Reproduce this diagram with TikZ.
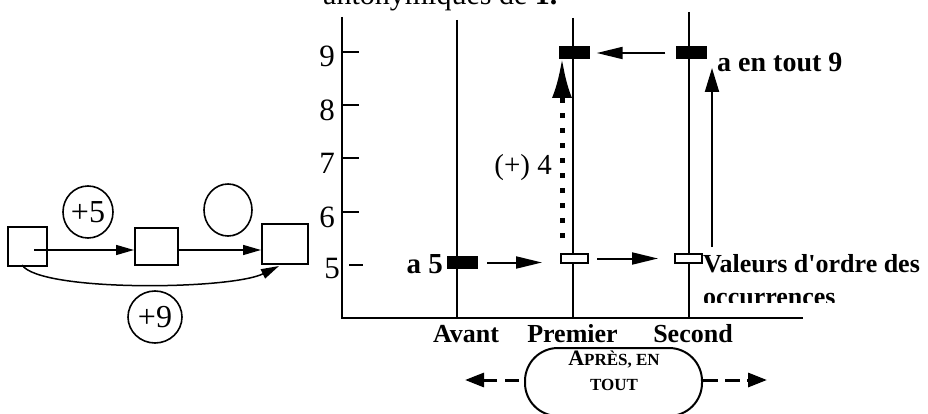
\documentclass[tikz,border=0pt]{standalone}
\usepackage{fontspec}
\setmainfont{Liberation Serif}[Ligatures=TeXOff]
\usetikzlibrary{arrows.meta,shapes.geometric}
\begin{document}
\begin{tikzpicture}[x=1pt,y=-1pt,
 ln/.style={line width=2pt},
 blk/.style={fill=black, draw=none, minimum width=31pt, minimum height=13pt, inner sep=0pt},
 opn/.style={draw, fill=white, line width=2pt, minimum width=27pt, minimum height=9pt, inner sep=0pt},
 arr/.style={line width=2pt, -{Triangle[length=26pt,width=12pt]}},
 arrs/.style={line width=1.5pt, -{Triangle[length=18pt,width=10pt]}},
 bx/.style={draw, line width=2pt, inner sep=0pt},
 circ/.style={draw, ellipse, line width=1.6pt, inner sep=0pt, font=\fontsize{32}{34}\selectfont},
 lab/.style={inner sep=0pt, font=\fontsize{26}{32}\selectfont\bfseries},
 num/.style={inner sep=0pt, font=\fontsize{31}{34}\selectfont, anchor=base east},
 dsh/.style={line width=3pt, dash pattern=on 14pt off 8pt, -{Triangle[length=19pt,width=14pt]}}
]
\useasboundingbox (0,0) rectangle (928,414);
\clip (0,0) rectangle (928,414);

% title (cut at top)
\node[anchor=base west, inner sep=0pt, font=\fontsize{30}{34}\selectfont] (title) at (323,5) {antonymiques de \textbf{1.}};

% axis
\coordinate (axtop) at (342,17);
\coordinate (axo) at (342,318);
\coordinate (axend) at (803,318);
\draw[ln] (axtop) -- (axo) -- (axend);
\foreach \y in {52,105,158,212} \draw[ln] (342,\y) -- (359,\y);
\draw[ln] (349,265) -- (363,265);
\node[num] (n9) at (335,67) {9};
\node[num] (n8) at (335,121) {8};
\node[num] (n7) at (335,174) {7};
\node[num] (n6) at (335,227) {6};
\node[num] (n5) at (340,278) {5};

% vertical lines
\coordinate (avt) at (457,20);
\coordinate (avb) at (457,318);
\coordinate (prt) at (573,18);
\coordinate (prb) at (573,318);
\coordinate (set) at (689,12);
\coordinate (seb) at (689,318);
\draw[ln] (avt) -- (avb);
\draw[ln] (prt) -- (prb);
\draw[ln] (set) -- (seb);

% blocks
\node[blk] (p9) at (574,53) {};
\node[blk] (s9) at (691,53) {};
\node[blk] (a5) at (462.5,262.5) {};
\node[opn] (p5) at (574.5,258.5) {};
\node[opn] (s5) at (688.5,258.5) {};

% arrows
\draw[arr] ([xshift=-10pt]s9.west) -- ([xshift=7pt]p9.east);
\draw[arr] ([xshift=9pt]a5.east) -- ([xshift=-18pt]p5.west |- a5.east);
\draw[arr] ([xshift=8pt]p5.east) -- ([xshift=-16pt]s5.west);
\coordinate (vb) at (712,247);
\coordinate (vt) at (712,68);
\draw[line width=2pt, -{Triangle[length=24pt,width=14pt]}] (vb) -- (vt);

% dotted arrow
\coordinate (db) at (562,238);
\coordinate (dt) at (562,58);
\draw[line width=5pt, dash pattern=on 5pt off 10pt, -{Latex[length=40pt,width=20pt]}] (db) -- (dt);
\node[anchor=base east, inner sep=0pt, font=\fontsize{29}{30}\selectfont] (plus4) at (552,175) {(+) 4};

% labels
\node[lab, anchor=base west, font=\fontsize{28}{32}\selectfont\bfseries] (tout9) at (717,72) {a en tout 9};
\node[lab, anchor=base east, font=\fontsize{29}{32}\selectfont\bfseries] (la5) at (443,273) {a 5};
\node[lab, anchor=base west] (val1) at (703,272) {Valeurs d'ordre des};
\begin{scope}
\clip (690,280) rectangle (928,302);
\node[lab, anchor=base west] (val2) at (703,305) {occurrences};
\end{scope}
\node[lab, anchor=base] (lav) at (466,342) {Avant};
\node[lab, anchor=base] (lpr) at (572.5,342) {Premier};
\node[lab, anchor=base] (lse) at (693,342) {Second};

% bottom stadium
\node[draw, line width=2pt, rounded corners=33pt, minimum width=177pt, minimum height=68pt, inner sep=0pt] (apres) at (613.5,382) {};
\node[inner sep=0pt, align=center, font=\fontsize{17}{25}\selectfont\bfseries] (apreslbl) at (614,371)
 {{\fontsize{22}{25}\selectfont A}PRÈS, EN\\TOUT};
\coordinate (lft) at (465,380);
\coordinate (rgt) at (767,380);
\draw[dsh] ([xshift=-5pt]apres.west |- lft) -- (lft);
\draw[dsh, dash pattern=on 15pt off 7pt] (apres.east |- rgt) -- (rgt);

% left diagram
\node[bx, minimum width=39pt, minimum height=39pt] (b1) at (27.5,246.5) {};
\node[bx, minimum width=43pt, minimum height=37pt] (b2) at (156.5,246.5) {};
\node[bx, minimum width=46pt, minimum height=40pt] (b3) at (285,244) {};
\coordinate (b1s) at (34,250);
\draw[arrs] (b1s) -- (b2.west |- b1s);
\draw[arrs] (b2.east |- b1s) -- (b3.west |- b1s);
\coordinate (c1) at (22,265);
\coordinate (c3) at (279,266);
\draw[arrs] (c1) .. controls (40,292) and (230,290) .. (c3);
\node[circ, minimum width=50pt, minimum height=52pt] (e5) at (88,212) {+5};
\node[circ, minimum width=48pt, minimum height=52pt] (e0) at (228,210) {};
\node[circ, minimum width=54pt, minimum height=52pt] (e9) at (155,317) {+9};
\end{tikzpicture}
\end{document}
